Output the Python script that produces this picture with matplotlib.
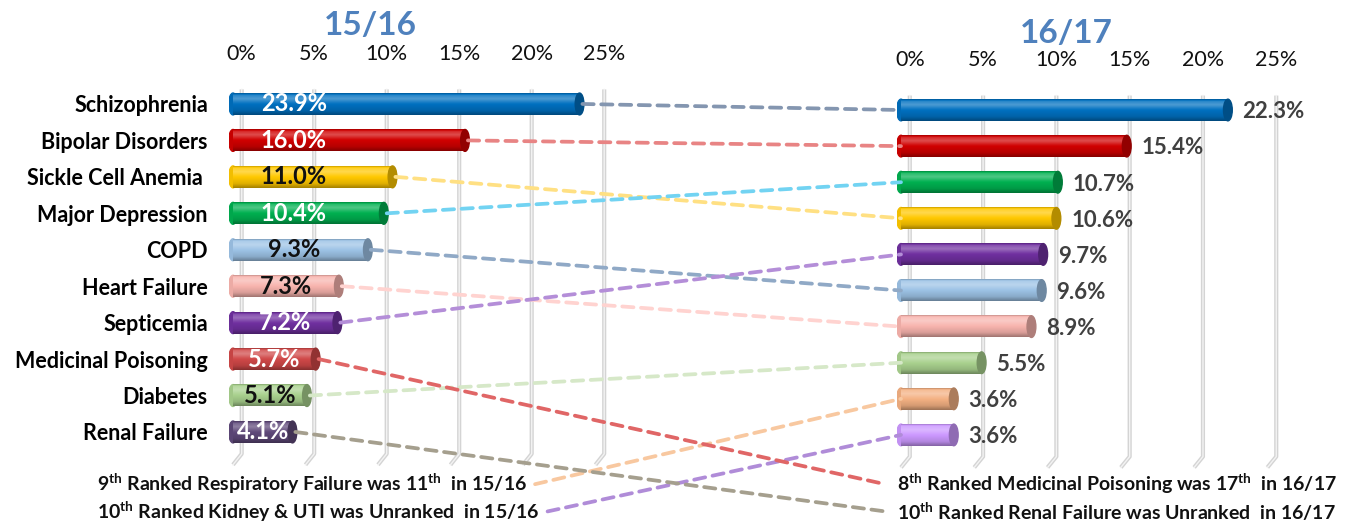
import numpy as np
import matplotlib.pyplot as plt
from matplotlib.colors import to_rgb
from matplotlib.patches import Ellipse, ConnectionPatch

plt.rcParams['font.family'] = ['Lato', 'DejaVu Sans']
plt.rcParams['mathtext.fontset'] = 'custom'
plt.rcParams['mathtext.rm'] = 'Lato:bold'
plt.rcParams['mathtext.it'] = 'Lato:bold'

# --- data ---
cats_1516 = ['Schizophrenia', 'Bipolar Disorders', 'Sickle Cell Anemia ', 'Major Depression', 'COPD',
             'Heart Failure', 'Septicemia', 'Medicinal Poisoning', 'Diabetes', 'Renal Failure']
vals_1516 = [23.9, 16.0, 11.0, 10.4, 9.3, 7.3, 7.2, 5.7, 5.1, 4.1]

cats_1617 = ['Schizophrenia', 'Bipolar Disorders', 'Major Depression', 'Sickle Cell Anemia ', 'Septicemia',
             'COPD', 'Heart Failure', 'Diabetes', 'Respiratory Failure', 'Kidney & UTI']
vals_1617 = [22.3, 15.4, 10.7, 10.6, 9.7, 9.6, 8.9, 5.5, 3.6, 3.6]

bar_colors = {
    'Schizophrenia': '#0070C0', 'Bipolar Disorders': '#D00000', 'Sickle Cell Anemia ': '#FFC800',
    'Major Depression': '#00B050', 'COPD': '#9DC3E6', 'Heart Failure': '#F8B4AE',
    'Septicemia': '#7030A0', 'Medicinal Poisoning': '#D04848', 'Diabetes': '#A9D18E',
    'Renal Failure': '#5F497A', 'Respiratory Failure': '#F4B183', 'Kidney & UTI': '#CC99FF',
}
link_colors = {
    'Schizophrenia': '#8496B0', 'Bipolar Disorders': '#E88484', 'Sickle Cell Anemia ': '#FFE083',
    'Major Depression': '#72D3F2', 'COPD': '#90A9C6', 'Heart Failure': '#FFD3D0',
    'Septicemia': '#B48ED8', 'Medicinal Poisoning': '#E06666', 'Diabetes': '#D6E8C8',
    'Renal Failure': '#A59F8E', 'Respiratory Failure': '#F8C8A0', 'Kidney & UTI': '#B08CD8',
}

ticks = [0, 5, 10, 15, 20, 25]

left_notes = ['9$^{\\mathrm{th}}$ Ranked Respiratory Failure was 11$^{\\mathrm{th}}$  in 15/16',
              '10$^{\\mathrm{th}}$ Ranked Kidney & UTI was Unranked  in 15/16']
left_note_targets = ['Respiratory Failure', 'Kidney & UTI']
right_notes = ['8$^{\\mathrm{th}}$ Ranked Medicinal Poisoning was 17$^{\\mathrm{th}}$  in 16/17',
               '10$^{\\mathrm{th}}$ Ranked Renal Failure was Unranked  in 16/17']
right_note_sources = ['Medicinal Poisoning', 'Renal Failure']

BAR_H = 0.6
DEPTH = 0.6


def shade(c, f):
    c = np.array(to_rgb(c))
    if f >= 0:
        return c + (1 - c) * f
    return c * (1 + f)


def cylinder(ax, y, v, c):
    pos = [0, 0.08, 0.25, 0.5, 0.8, 1.0]
    mix = [-0.2, 0.15, 0.3, 0.0, -0.12, -0.35]
    t = np.linspace(0, 1, 40)
    f = np.interp(t, pos, mix)
    grad = np.array([shade(c, fi) for fi in f])[:, None, :]
    ax.add_patch(Ellipse((0, y), DEPTH, BAR_H, color=shade(c, -0.05), zorder=3))
    ax.imshow(grad, extent=[0, v, y + BAR_H / 2, y - BAR_H / 2], aspect='auto',
              interpolation='bilinear', zorder=4)
    ax.add_patch(Ellipse((v, y), DEPTH, BAR_H, color=shade(c, -0.3), zorder=5))


def setup(ax):
    for t in ticks:
        xs = [t + DEPTH, t + DEPTH, t]
        ys = [-0.4, 9.6, 9.9]
        ax.plot(xs, ys, color='#d4d4d4', lw=3, zorder=1, solid_capstyle='butt')
        ax.plot(xs, ys, color='#f3f3f3', lw=1, zorder=1.1)
    ax.set_xlim(-0.3, 27)
    ax.set_ylim(10.0, -0.6)
    ax.xaxis.tick_top()
    ax.set_xticks([t + DEPTH for t in ticks], labels=[f'{t}%' for t in ticks])
    ax.tick_params(axis='x', length=0, pad=13, labelsize=15.5, labelcolor='#111111')
    ax.tick_params(axis='y', length=0)
    for s in ax.spines.values():
        s.set_visible(False)
    ax.patch.set_visible(False)


fig = plt.figure(figsize=(13.51, 5.24), dpi=100)
axL = fig.add_axes([0.16925, 0.1061, 0.2930, 0.7372])
axR = fig.add_axes([0.66366, 0.1011, 0.2962, 0.7303])
setup(axL)
setup(axR)

# left panel 15/16
for i, (cat, v) in enumerate(zip(cats_1516, vals_1516)):
    c = bar_colors[cat]
    cylinder(axL, i, v, c)
    r, g, b = to_rgb(c)
    lum = 0.299 * r + 0.587 * g + 0.114 * b
    axL.text(min(v / 2, 4.2), i, f'{v:.1f}%', ha='center', va='center', fontsize=17,
             fontweight='bold', color='#111111' if lum > 0.6 else 'white', zorder=6)
axL.set_yticks(range(len(cats_1516)), labels=cats_1516)
axL.tick_params(axis='y', pad=15, labelsize=15.5)
for lab in axL.get_yticklabels():
    lab.set_fontweight('bold')

# right panel 16/17
for j, (cat, v) in enumerate(zip(cats_1617, vals_1617)):
    cylinder(axR, j, v, bar_colors[cat])
    axR.text(v + 1.0, j + 0.05, f'{v:.1f}%', ha='left', va='center', fontsize=16,
             fontweight='bold', color='#404040', zorder=6)
axR.set_yticks([])

fig.text(0.274, 0.952, '15/16', ha='center', va='center', fontsize=24, fontweight='bold', color='#4F81BD')
fig.text(0.789, 0.937, '16/17', ha='center', va='center', fontsize=24, fontweight='bold', color='#4F81BD')

dash = (0, (3, 2))
LW = 2.7

# connectors between the two years
for i, cat in enumerate(cats_1516):
    if cat in cats_1617:
        j = cats_1617.index(cat)
        con = ConnectionPatch(xyA=(vals_1516[i] + 0.2, i), coordsA=axL.transData,
                              xyB=(0, j), coordsB=axR.transData,
                              color=link_colors[cat], lw=LW, linestyle=dash, zorder=0.5)
        fig.add_artist(con)

# notes at the bottom
note_y = [0.076, 0.024]
lt = [fig.text(0.0718, y, s, ha='left', va='center', fontsize=14, fontweight='bold', color='#111111')
      for s, y in zip(left_notes, note_y)]
rt = [fig.text(0.664, y, s, ha='left', va='center', fontsize=14, fontweight='bold', color='#111111')
      for s, y in zip(right_notes, note_y)]
fig.canvas.draw()
inv = fig.transFigure.inverted()

for t, cat in zip(lt, left_note_targets):
    bb = t.get_window_extent()
    x0, y0 = inv.transform((bb.x1 + 8, (bb.y0 + bb.y1) / 2))
    j = cats_1617.index(cat)
    con = ConnectionPatch(xyA=(x0, y0), coordsA='figure fraction', xyB=(0, j), coordsB=axR.transData,
                          color=link_colors[cat], lw=LW, linestyle=dash, zorder=0.5)
    fig.add_artist(con)

for t, cat in zip(rt, right_note_sources):
    bb = t.get_window_extent()
    x1, y1 = inv.transform((bb.x0 - 12, (bb.y0 + bb.y1) / 2))
    i = cats_1516.index(cat)
    con = ConnectionPatch(xyA=(vals_1516[i] + 0.2, i), coordsA=axL.transData,
                          xyB=(x1, y1), coordsB='figure fraction',
                          color=link_colors[cat], lw=LW, linestyle=dash, zorder=0.5)
    fig.add_artist(con)

fig.savefig('out.png', dpi=100)
